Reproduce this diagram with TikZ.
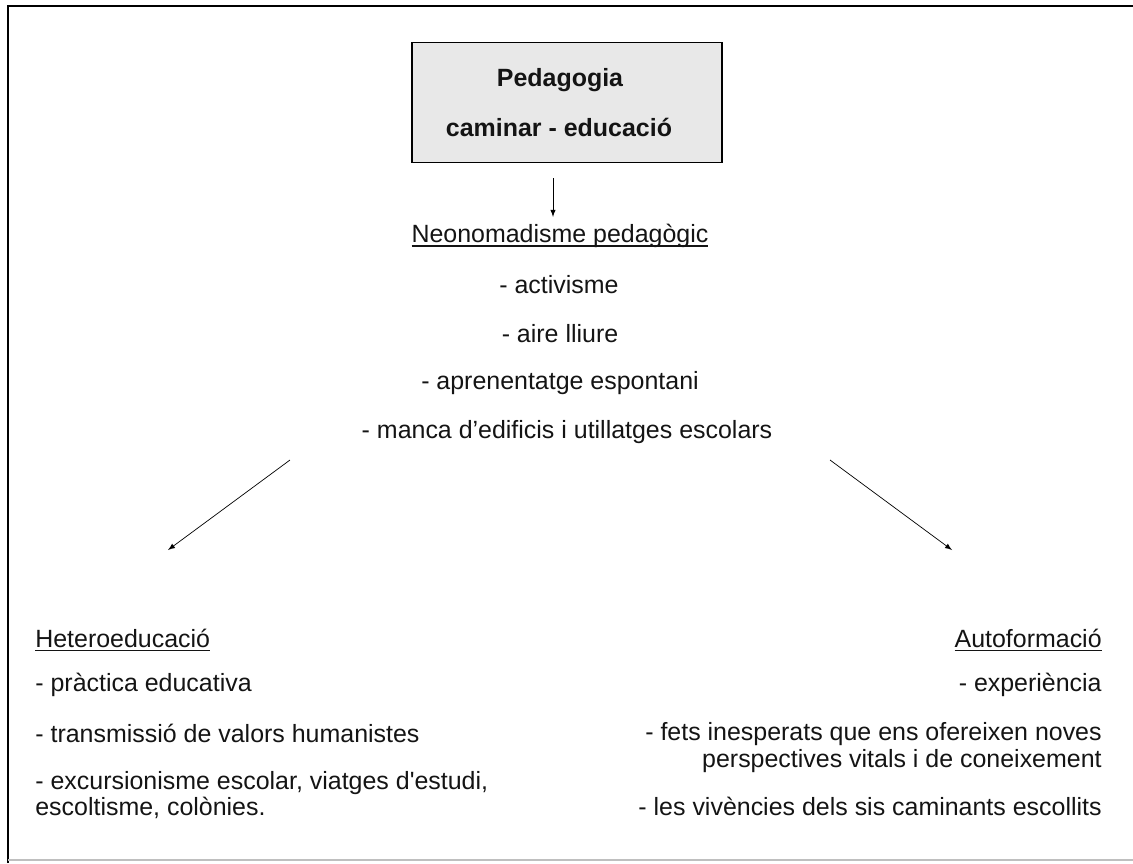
\documentclass[tikz,border=0pt]{standalone}
\usepackage{fontspec}
\setmainfont{Liberation Sans}
\usepackage{tikz}
\usetikzlibrary{arrows,calc}
\newcommand{\myul}[1]{\setbox0\hbox{#1}\rlap{\rule[-2.3pt]{\wd0}{0.7pt}}\box0}

\begin{document}
\begin{tikzpicture}[
  txt/.style={font=\fontsize{14.2}{15}\selectfont, text=black!92, inner sep=0pt},
  hd/.style={txt, font=\fontsize{14.2}{15}\selectfont\bfseries},
  lft/.style={txt, anchor=west, align=left},
  rgt/.style={txt, anchor=east, align=right}]

\useasboundingbox (0,0) rectangle (22.66,-17.26);
\draw [line width=1pt] (0.16,-17.26) -- (0.16,-0.12) -- (22.66,-0.12);
\draw [black!25, line width=0.6pt] (0.16,-17.2) -- (22.66,-17.2);

\node [draw, fill=black!9, line width=0.6pt, minimum width=6.2cm, minimum height=2.4cm] (box) at (11.34,-2.05) {};
\node [hd] (ped) at (11.2,-1.6) {Pedagogia};
\node [hd] (cam) at (11.18,-2.54) {caminar - educació};

\node [txt] (neo) at (11.2,-4.72) {\myul{Neonomadisme pedagògic}};
\node [txt] (i1) at (11.18,-5.7) {- activisme};
\node [txt] (i2) at (11.2,-6.68) {- aire lliure};
\node [txt] (i3) at (11.2,-7.66) {- aprenentatge espontani};
\node [txt] (i4) at (11.34,-8.64) {- manca d’edificis i utillatges escolars};
\draw [-latex] ([xshift=-2.8mm,yshift=-3mm]box.south) -- ([xshift=-2.8mm,yshift=1.4mm]box.south |- neo.north);

\coordinate (ls) at (5.8,-9.2);
\coordinate (le) at (3.36,-11.0);
\coordinate (rs) at (16.6,-9.2);
\coordinate (re) at (19.04,-11.0);
\draw [-latex] (ls) -- (le);
\draw [-latex] (rs) -- (re);

\node [lft] (het) at (0.7,-12.8) {\myul{Heteroeducació}};
\node [lft] (l1) at (0.7,-13.7) {- pràctica educativa};
\node [lft] (l2) at (0.7,-14.66) {- transmissió de valors humanistes};
\node [lft] (l3) at (0.7,-15.9) {- excursionisme escolar, viatges d\textquotesingle estudi,\\escoltisme, colònies.};

\node [rgt] (aut) at (22.04,-12.8) {\myul{Autoformació}};
\node [rgt] (r1) at (22.04,-13.7) {- experiència};
\node [rgt] (r2) at (22.04,-14.95) {- fets inesperats que ens ofereixen noves\\perspectives vitals i de coneixement};
\node [rgt] (r3) at (22.04,-16.12) {- les vivències dels sis caminants escollits};

\end{tikzpicture}
\end{document}
